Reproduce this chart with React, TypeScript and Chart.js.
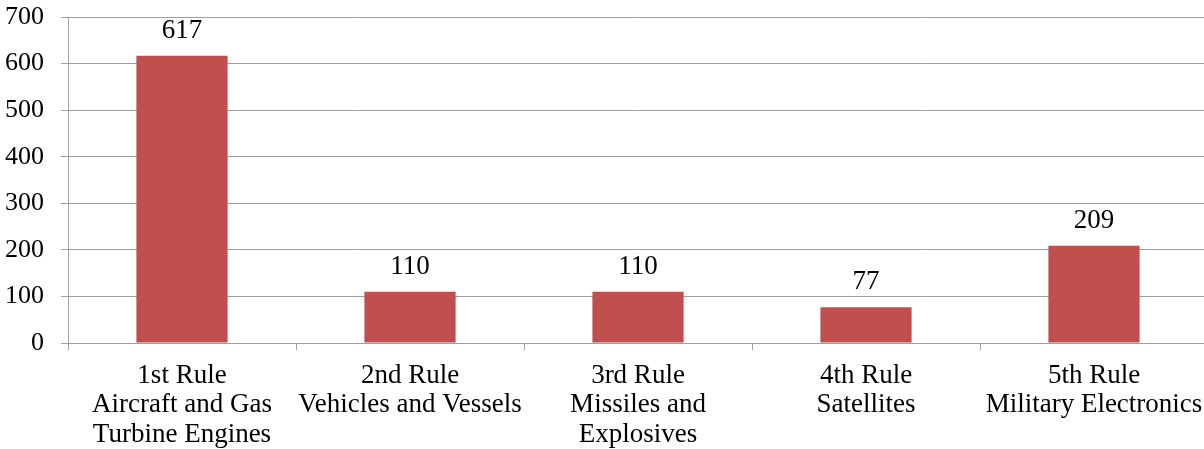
import React, { useEffect, useRef } from "react";
import { Chart, registerables } from "chart.js";

Chart.register(...registerables);

const categories: string[][] = [
  ["1st Rule", "Aircraft and Gas", "Turbine Engines"],
  ["2nd Rule", "Vehicles and Vessels"],
  ["3rd Rule", "Missiles and", "Explosives"],
  ["4th Rule", "Satellites"],
  ["5th Rule", "Military Electronics"],
];
const values: number[] = [617, 110, 110, 77, 209];
const yTicks: number[] = [0, 100, 200, 300, 400, 500, 600, 700];

const FONT = "'Liberation Serif', 'Times New Roman', serif";
const FS = 26;
const FSX = 27;

const valueLabels = {
  id: "valueLabels",
  afterDatasetsDraw(chart: any) {
    const ctx = chart.ctx;
    const meta = chart.getDatasetMeta(0);
    ctx.save();
    ctx.font = `${FSX}px ${FONT}`;
    ctx.fillStyle = "#000";
    ctx.textAlign = "center";
    ctx.textBaseline = "alphabetic";
    meta.data.forEach((bar: any, i: number) => {
      ctx.fillText(String(values[i]), bar.x, bar.y - 18);
    });
    ctx.restore();
  },
};

export default function App() {
  const ref = useRef<HTMLCanvasElement>(null);
  useEffect(() => {
    if (!ref.current) return;
    const chart = new Chart(ref.current, {
      type: "bar",
      data: {
        labels: categories,
        datasets: [
          {
            data: values,
            backgroundColor: "#C0504D",
            borderWidth: 0,
            categoryPercentage: 1,
            barPercentage: 0.4,
          },
        ],
      },
      options: {
        responsive: false,
        animation: false,
        devicePixelRatio: 1,
        layout: { padding: { top: 17, right: 0, bottom: 0, left: 0 } },
        plugins: {
          legend: { display: false },
          tooltip: { enabled: false },
        },
        scales: {
          x: {
            offset: true,
            afterFit: (scale: any) => {
              scale.height = 106;
              scale.paddingLeft = 0;
              scale.paddingRight = 0;
            },
            grid: {
              display: true,
              offset: true,
              drawOnChartArea: false,
              drawTicks: true,
              tickLength: 7,
              color: "#a0a0a0",
            },
            border: { display: true, color: "#a0a0a0" },
            ticks: {
              color: "#000",
              font: { family: FONT, size: FSX, lineHeight: 1.09 },
              padding: 11,
              maxRotation: 0,
              autoSkip: false,
            },
          },
          y: {
            min: 0,
            max: 700,
            afterBuildTicks: (scale: any) => {
              scale.ticks = yTicks.map((v) => ({ value: v }));
            },
            afterFit: (scale: any) => {
              scale.width = 68;
              scale.paddingTop = 0;
              scale.paddingBottom = 0;
            },
            grid: {
              color: "#a0a0a0",
              drawTicks: true,
              tickLength: 7,
            },
            border: { display: true, color: "#a0a0a0" },
            ticks: {
              color: "#000",
              font: { family: FONT, size: FS },
              padding: 17,
            },
          },
        },
      },
      plugins: [valueLabels],
    });
    return () => chart.destroy();
  }, []);
  return (
    <div
      style={{
        position: "fixed",
        left: 0,
        top: 0,
        width: 1204,
        height: 449,
        overflow: "hidden",
        background: "#fff",
      }}
    >
      <canvas ref={ref} width={1208} height={449} style={{ display: "block" }} />
    </div>
  );
}
